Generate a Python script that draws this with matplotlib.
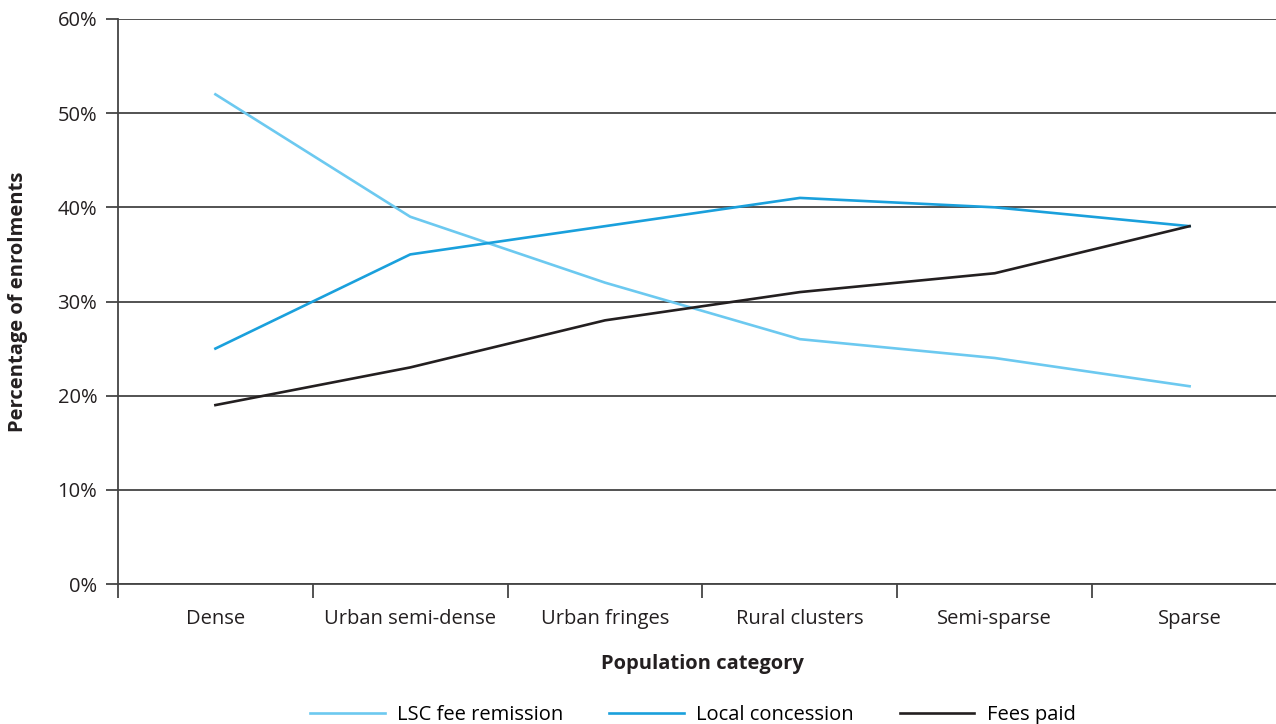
import numpy as np
import matplotlib.pyplot as plt
from matplotlib.ticker import FixedLocator, PercentFormatter

# Dades
categories = ['Dense', 'Urban semi-dense', 'Urban fringes', 'Rural clusters', 'Semi-sparse', 'Sparse']
lsc_fee_remission = [52, 39, 32, 26, 24, 21]
local_concession = [25, 35, 38, 41, 40, 38]
fees_paid = [19, 23, 28, 31, 33, 38]

plt.rcParams['font.family'] = ['Open Sans', 'DejaVu Sans']
grid_col = '#444444'
fs = 14.5

fig = plt.figure(figsize=(12.76, 7.24), dpi=100, facecolor='white')
ax = fig.add_axes([118 / 1276, 1 - 584 / 724, (1287 - 118) / 1276, (584 - 19) / 724])

x = np.arange(len(categories))
ax.plot(x, lsc_fee_remission, color='#6cc9f0', lw=1.9, label='LSC fee remission')
ax.plot(x, local_concession, color='#1aa0dc', lw=1.9, label='Local concession')
ax.plot(x, fees_paid, color='#231f20', lw=1.9, label='Fees paid')

ax.set_xlim(-0.5, len(categories) - 0.5)
ax.set_ylim(0, 60)
ax.set_yticks(np.arange(0, 61, 10))
ax.yaxis.set_major_formatter(PercentFormatter(decimals=0))
ax.yaxis.grid(True, color=grid_col, lw=1.3)
ax.set_axisbelow(True)

ax.set_xticks(x)
ax.set_xticklabels(categories)
ax.xaxis.set_minor_locator(FixedLocator(np.arange(-0.5, len(categories), 1)))
ax.tick_params(axis='x', which='major', length=0, pad=18, labelsize=fs, colors='#231f20')
ax.tick_params(axis='x', which='minor', length=10, width=1.3, color=grid_col)
ax.tick_params(axis='y', length=9, width=1.3, color=grid_col, pad=6, labelsize=fs, labelcolor='#231f20')

for s in ['top', 'right']:
    ax.spines[s].set_visible(False)
ax.spines['left'].set_color(grid_col)
ax.spines['left'].set_linewidth(1.3)
ax.spines['bottom'].set_color(grid_col)
ax.spines['bottom'].set_linewidth(1.3)

ax.set_xlabel('Population category', fontsize=fs, fontweight='bold', labelpad=18, color='#231f20')
ax.set_ylabel('Percentage of enrolments', fontsize=fs, fontweight='bold', color='#231f20')
ax.yaxis.set_label_coords(-0.077, 0.5)

fig.legend(loc='center', bbox_to_anchor=(0.543, 0.013), ncol=3, frameon=False, fontsize=fs,
           handlelength=3.7, handletextpad=0.6, columnspacing=2.3)

plt.savefig('out.png', dpi=100, facecolor='white')
